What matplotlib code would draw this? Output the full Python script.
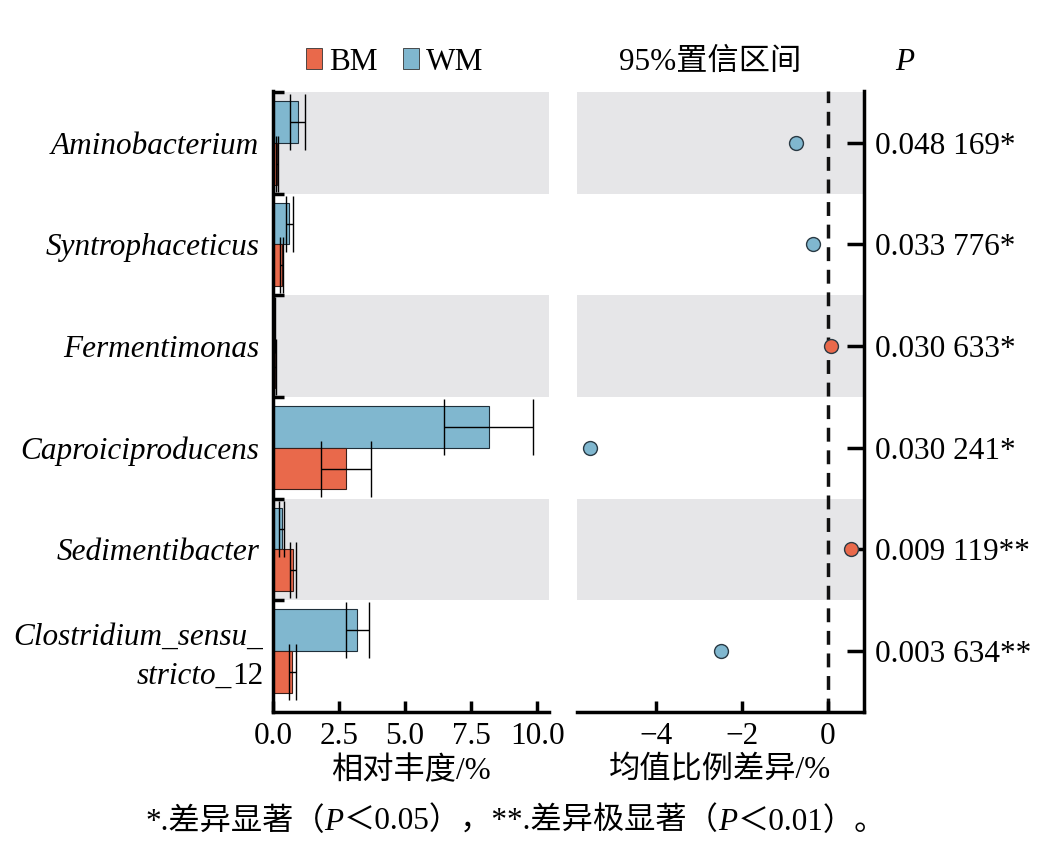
import matplotlib
matplotlib.use("Agg")
import matplotlib.pyplot as plt
from matplotlib.patches import Patch
from matplotlib.ticker import FixedLocator
from matplotlib.transforms import blended_transform_factory, offset_copy

plt.rcParams['font.family'] = ['Liberation Serif', 'Noto Sans CJK SC']
plt.rcParams['axes.unicode_minus'] = True

genera = ["Aminobacterium", "Syntrophaceticus", "Fermentimonas",
          "Caproiciproducens", "Sedimentibacter", "Clostridium_sensu_\nstricto_12"]
wm_mean = [0.93, 0.62, 0.04, 8.16, 0.33, 3.19]
wm_err = [0.27, 0.12, 0.03, 1.68, 0.10, 0.44]
bm_mean = [0.15, 0.33, 0.08, 2.75, 0.77, 0.73]
bm_err = [0.04, 0.06, 0.03, 0.95, 0.11, 0.14]
diff = [-0.74, -0.35, 0.07, -5.53, 0.53, -2.49]
p_labels = ["0.048 169*", "0.033 776*", "0.030 633*", "0.030 241*", "0.009 119**", "0.003 634**"]

red = "#E9694B"
blue = "#80B7CF"
band = "#E6E6E8"
fs = 22.5


def main():
    fig = plt.figure(figsize=(10.39, 8.52), dpi=100)
    ax1 = fig.add_axes([0.2628, 0.1643, 0.2656, 0.7289])
    ax2 = fig.add_axes([0.5553, 0.1643, 0.2762, 0.7289])

    ypos = list(range(len(genera)))
    ylim = (5.6, -0.51)
    for ax in (ax1, ax2):
        for i in ypos:
            if i % 2 == 0:
                ax.axhspan(i - 0.5, i + 0.5, color=band, zorder=0, lw=0)
        ax.set_ylim(*ylim)

    # left: relative abundance bars
    h = 0.41
    ekw = dict(ecolor="black", elinewidth=1, capsize=20, capthick=1)
    ax1.barh([y - h / 2 for y in ypos], wm_mean, height=h, color=blue, edgecolor="#1f2f3a",
             linewidth=0.8, xerr=wm_err, error_kw=ekw, zorder=2)
    ax1.barh([y + h / 2 for y in ypos], bm_mean, height=h, color=red, edgecolor="#3a1f1a",
             linewidth=0.8, xerr=bm_err, error_kw=ekw, zorder=2)
    ax1.set_xlim(0, 10.45)
    ax1.set_xticks([0, 2.5, 5.0, 7.5, 10.0])
    ax1.set_xticklabels(["0.0", "2.5", "5.0", "7.5", "10.0"], fontsize=fs)
    ax1.set_yticks(ypos)
    ax1.set_yticklabels([g if "\n" not in g else "" for g in genera], fontsize=fs, style="italic")
    ax1.yaxis.set_minor_locator(FixedLocator([-0.5, 0.5, 1.5, 2.5, 3.5, 4.5]))
    ax1.tick_params(axis="y", which="major", length=0, pad=10)
    ax1.tick_params(axis="y", which="minor", direction="in", length=8, width=2.5)
    ax1.tick_params(axis="x", direction="in", length=8, width=2.5, pad=7)
    ax1.set_xlabel("相对丰度/%", fontsize=fs, labelpad=4)
    for s in ["top", "right"]:
        ax1.spines[s].set_visible(False)
    for s in ["left", "bottom"]:
        ax1.spines[s].set_linewidth(2.5)

    # two-line genus name: italic except the trailing number
    trans = blended_transform_factory(ax1.transAxes, ax1.transData)
    for y, g in zip(ypos, genera):
        if "\n" in g:
            line1, line2 = g.split("\n")
            head, num = line2.rsplit("_", 1)
            ax1.text(0, y, line1, transform=offset_copy(trans, fig=fig, x=-10, y=14, units="dots"),
                     fontsize=fs, style="italic", ha="right", va="center")
            tn = ax1.text(0, y, num, transform=offset_copy(trans, fig=fig, x=-10, y=-25, units="dots"),
                          fontsize=fs, ha="right", va="center")
            ax1.annotate(head + "_", xy=(0, 0.5), xycoords=tn, fontsize=fs, style="italic",
                         ha="right", va="center", annotation_clip=False)

    ax1.legend(handles=[Patch(facecolor=red, edgecolor="#333333", lw=0.6, label="BM"),
                        Patch(facecolor=blue, edgecolor="#333333", lw=0.6, label="WM")],
               loc="center left", bbox_to_anchor=(306 / 1039, 1 - 62 / 852), bbox_transform=fig.transFigure,
               ncol=2, frameon=False, fontsize=fs,
               handlelength=0.52, handleheight=0.62, handletextpad=0.22, columnspacing=0.8,
               borderaxespad=0, borderpad=0.0)

    # right: difference in mean proportions
    ax2.axvline(0, color="#111111", lw=2.5, ls=(0, (4, 2.5)), zorder=1)
    for y, d in zip(ypos, diff):
        c = red if d > 0 else blue
        ax2.plot(d, y, "o", color=c, markersize=10, markeredgecolor="#2a3a44", markeredgewidth=1, zorder=3)
    ax2.set_xlim(-5.84, 0.84)
    ax2.set_xticks([-4, -2, 0])
    ax2.set_xticklabels(["\u22124", "\u22122", "0"], fontsize=fs)
    ax2.yaxis.tick_right()
    ax2.set_yticks(ypos)
    ax2.set_yticklabels(p_labels, fontsize=fs)
    ax2.tick_params(axis="y", direction="in", length=12, width=2.5, pad=8)
    ax2.tick_params(axis="x", direction="in", length=8, width=2.5, pad=7)
    ax2.set_xlabel("均值比例差异/%", fontsize=fs, labelpad=4)
    for s in ["top", "left"]:
        ax2.spines[s].set_visible(False)
    for s in ["right", "bottom"]:
        ax2.spines[s].set_linewidth(2.5)

    fig.text(710 / 1039, 1 - 62 / 852, "95%置信区间", fontsize=fs, ha="center", va="center")
    fig.text(905 / 1039, 1 - 62 / 852, "P", fontsize=fs, style="italic", ha="center", va="center")

    # footnote: chain pieces so that P can be italic
    pieces = [("*.差异显著（", "normal"), ("P", "italic"), ("＜0.05），**.差异极显著（", "normal"),
              ("P", "italic"), ("＜0.01）。", "normal")]
    t = fig.text(145 / 1039, 1 - 822 / 852, pieces[0][0], fontsize=fs, ha="left", va="center")
    for txt, st in pieces[1:]:
        t = ax1.annotate(txt, xy=(1, 0.5), xycoords=t, fontsize=fs, style=st,
                         ha="left", va="center", annotation_clip=False)

    fig.savefig("out.png", dpi=100)


if __name__ == '__main__':
    main()
